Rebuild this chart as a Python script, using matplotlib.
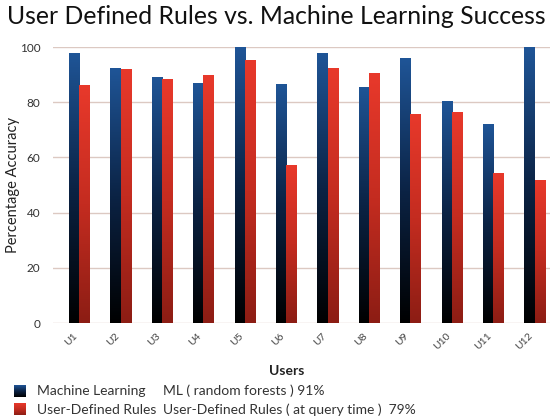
import numpy as np
import matplotlib
matplotlib.use("Agg")
import matplotlib.pyplot as plt
from matplotlib.colors import LinearSegmentedColormap

# values
users = ["U1", "U2", "U3", "U4", "U5", "U6", "U7", "U8", "U9", "U10", "U11", "U12"]
ml_acc = [97.8, 92.3, 89.3, 87.0, 100.0, 86.6, 97.7, 85.6, 96.0, 80.4, 72.2, 100.0]
rules_acc = [86.1, 92.0, 88.3, 90.0, 95.4, 57.1, 92.3, 90.4, 75.9, 76.4, 54.5, 51.7]
yticks = [0, 20, 40, 60, 80, 100]

plt.rcParams['font.family'] = ['Lato', 'DejaVu Sans']

blue_cmap = LinearSegmentedColormap.from_list("blue", ["#000000", "#0b2345", "#1f5597"])
red_cmap = LinearSegmentedColormap.from_list("red", ["#8c1d14", "#c42c20", "#e8392b"])
grad = np.linspace(0, 1, 256).reshape(-1, 1)

fig = plt.figure(figsize=(5.53, 4.18), dpi=100)
ax = fig.add_axes([53/553, 1-323/418, 497/553, 276/418])

x = np.arange(len(users))
w = 0.25


def gradient_bars(xpos, vals, cmap):
    bars = ax.bar(xpos, vals, w, color="none", edgecolor="none", zorder=2)
    for b in bars:
        x0, y0 = b.get_xy()
        im = ax.imshow(grad, extent=[x0, x0 + b.get_width(), y0, y0 + b.get_height()],
                       origin="lower", cmap=cmap, aspect="auto", zorder=2)
        im.set_clip_path(b)


gradient_bars(x - w/2, ml_acc, blue_cmap)
gradient_bars(x + w/2, rules_acc, red_cmap)

ax.set_xlim(-0.635, 11.37)
ax.set_ylim(0, 100)
ax.set_aspect("auto")
ax.set_yticks(yticks)
ax.yaxis.grid(True, color="#dcc9c2", linewidth=1)
ax.set_axisbelow(True)
for s in ax.spines.values():
    s.set_visible(False)
ax.tick_params(length=0, colors="#333333", labelsize=8.5)
ax.tick_params(axis="y", pad=9)
ax.set_xticks(x)
ax.set_xticklabels(users, rotation=45, ha="right", va="top", fontsize=7.5, color="#444444")
ax.tick_params(axis="x", pad=6)
ax.set_ylabel("Percentage Accuracy", fontsize=10.5, color="#222222")
ax.yaxis.set_label_coords(-0.066, 0.5)
ax.set_xlabel("Users", fontsize=10, color="#222222", fontweight="bold")
ax.xaxis.set_label_coords(0.47, -0.152)

fig.text(0.5, 1-16/418, "User Defined Rules vs. Machine Learning Success",
         ha="center", va="center", fontsize=17.8, color="#111111")

# legend
for ypix, cmap in [(385, blue_cmap), (403, red_cmap)]:
    lax = fig.add_axes([14/553, 1-(ypix+12)/418, 12/553, 12/418])
    lax.imshow(grad, origin="lower", cmap=cmap, aspect="auto")
    lax.axis("off")
fig.text(37/553, 1-391/418, "Machine Learning", va="center", fontsize=10, color="#333333")
fig.text(163/553, 1-391/418, "ML ( random forests ) 91%", va="center", fontsize=10, color="#333333")
fig.text(37/553, 1-410/418, "User-Defined Rules", va="center", fontsize=10, color="#333333")
fig.text(163/553, 1-410/418, "User-Defined Rules ( at query time )  79%", va="center", fontsize=10, color="#333333")

fig.savefig("out.png", dpi=100)
